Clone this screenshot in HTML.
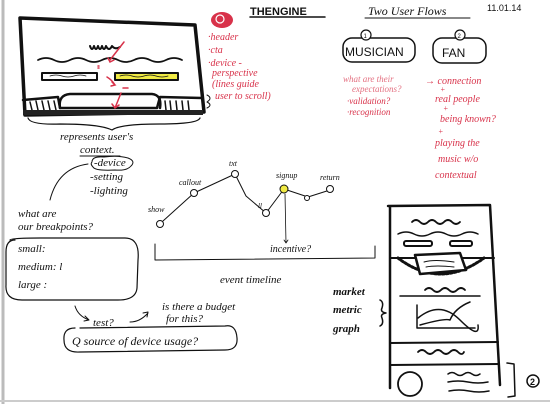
<!DOCTYPE html>
<html><head><meta charset="utf-8"><style>
html,body{margin:0;padding:0;background:#fff;width:550px;height:404px;overflow:hidden}
svg{display:block}
text{font-family:"Liberation Serif",serif;font-style:italic}
.h{font-family:"Liberation Sans",sans-serif;font-style:normal}
.r{fill:#d8324a}
</style></head><body>
<svg width="550" height="404" viewBox="0 0 550 404" xmlns="http://www.w3.org/2000/svg">
<rect width="550" height="404" fill="#fff"/>
<line x1="3" y1="0" x2="3" y2="404" stroke="#bbb" stroke-width="3"/>
<line x1="0" y1="401" x2="550" y2="401" stroke="#ccc" stroke-width="2"/>
<g fill="none" stroke="#111" stroke-linecap="round" stroke-linejoin="round">
<!-- desktop -->
<path d="M20 18 L195 25 L204 112 L25 115 Z" stroke-width="3.5"/>
<path d="M23 100 L58 97 L60 108 L157 108 L160 97 L202 98" stroke-width="2.5"/>
<path d="M60 108 Q58 95 70 94 L152 94 Q162 95 160 108" stroke-width="2.5"/>
<path d="M30 102 l2 8 M36 101 l2 9 M42 101 l2 9 M48 101 l2 9 M54 101 l2 9 M165 101 l1 9 M170 101 l1 9 M176 101 l1 9 M182 101 l1 9 M188 101 l1 9" stroke-width="1.5"/>
<rect x="23" y="110" width="180" height="5" fill="#222" stroke="none"/>
<path d="M90 46 q2 6 4 0 q2 6 4 0 q2 6 4 0 q2 6 4 0 q3 6 6 0 q3 4 8 1" stroke-width="2"/>
<path d="M38 60 q8 -4 16 0 t16 0 t16 0 t16 0 t16 0 t16 0 t16 0 t16 0 t16 0" stroke-width="1.8"/>
<rect x="42" y="73" width="55" height="7" stroke-width="2"/>
<rect x="115" y="73" width="63" height="7" stroke-width="2" fill="#f0ea44"/>
<path d="M50 76 q6 -2 12 0 t12 0 t12 0" stroke-width="0.8"/>
<path d="M120 76 q6 -2 12 0 t12 0 t12 0 t12 0" stroke-width="0.8"/>
<!-- brace -->
<path d="M28 118 Q30 125 60 124 Q100 124 112 130 Q120 124 160 124 Q198 124 200 118" stroke-width="1.2"/>
<path d="M207 95 q6 3 0 7 q6 3 0 6" stroke-width="1"/>
<!-- musician/fan -->
<rect x="343" y="38" width="72" height="24" rx="9" stroke-width="1.5"/>
<circle cx="366" cy="35" r="5" stroke-width="1.2" fill="#fff"/>
<rect x="433" y="38" width="53" height="25" rx="9" stroke-width="1.5"/>
<circle cx="460" cy="35" r="5" stroke-width="1.2" fill="#fff"/>
<line x1="250" y1="17" x2="325" y2="17" stroke-width="1.5"/>
<line x1="365" y1="18" x2="470" y2="18" stroke-width="1"/>
<!-- context -->
<line x1="80" y1="156" x2="120" y2="156" stroke-width="1"/>
<path d="M92 162 q0 -6 12 -5 q14 -2 24 1 q8 3 3 8 q-4 5 -16 4 q-20 1 -22 -3 q-3 -3 -1 -5" stroke-width="1"/>
<path d="M88 164 Q58 168 50 200" stroke-width="1"/>
<path d="M10 240 Q10 238 40 238 L125 238 Q140 238 138 260 L137 288 Q136 300 118 300 L22 300 Q5 300 6 285 L6 252 Q6 240 15 240" stroke-width="1.2"/>
<path d="M75 306 q3 10 14 14 m-4 -4 l4 4 l-5 1" stroke-width="1"/>
<path d="M130 322 q10 0 18 -9 m-5 0 l5 -1 l-1 5" stroke-width="1"/>
<path d="M75 328 Q63 328 64 340 Q64 353 80 352 L225 350 Q238 350 237 338 Q236 324 225 326 L80 328" stroke-width="1.2"/>
<!-- timeline -->
<path d="M163 221 L194 193 L235 174 L246 196 L266 213 L284 189 L308 197 L330 190" stroke-width="1"/>
<circle cx="160" cy="224" r="3.5" fill="#fff" stroke-width="1"/>
<circle cx="194" cy="193" r="3.5" fill="#fff" stroke-width="1"/>
<circle cx="235" cy="174" r="3.5" fill="#fff" stroke-width="1"/>
<circle cx="266" cy="213" r="3.5" fill="#fff" stroke-width="1"/>
<circle cx="284" cy="189" r="4" fill="#f0ea44" stroke-width="1"/>
<circle cx="307" cy="198" r="2.5" fill="#fff" stroke-width="1"/>
<circle cx="330" cy="189" r="3.5" fill="#fff" stroke-width="1"/>
<path d="M285 194 L286 243 m-2 -3 l2 3 l2 -3" stroke-width="0.8"/>
<path d="M155 244 L155 260 L375 258 L375 246" stroke-width="1"/>
<!-- mobile -->
<path d="M388 206 L490 205 L500 385 M390 206 L390 388" stroke-width="2.5"/>
<line x1="390" y1="258" x2="494" y2="258" stroke-width="2"/>
<line x1="390" y1="343" x2="498" y2="342" stroke-width="2"/>
<line x1="390" y1="365" x2="499" y2="364" stroke-width="2"/>
<path d="M412 222 q4 -4 8 0 t8 0 t8 0 t8 0 t8 0 t8 0" stroke-width="1.8"/>
<path d="M398 234 q8 -4 16 0 t16 0 t16 0 t16 0 t16 0" stroke-width="1.5"/>
<rect x="404" y="241" width="28" height="5" rx="2" stroke-width="2"/>
<rect x="450" y="241" width="22" height="5" rx="2" stroke-width="2"/>
<path d="M398 258 Q440 290 484 258" stroke-width="3" stroke-dasharray="2 2"/>
<path d="M415 255 L460 253 L466 270 L420 274 Z" stroke-width="2.5" fill="#fff"/>
<path d="M424 262 q10 -3 30 0 M426 267 q10 -2 28 0" stroke-width="1"/>
<path d="M425 290 q4 -4 8 0 t8 0 t8 0 t8 0 t8 0" stroke-width="1.8"/>
<line x1="400" y1="296" x2="480" y2="296" stroke-width="1.5"/>
<path d="M417 305 L417 328 L475 328" stroke-width="1.5"/>
<path d="M418 318 Q440 300 460 320 T478 325 M420 325 Q445 318 450 320 Q455 308 470 302" stroke-width="1.5"/>
<path d="M418 352 q4 -4 8 0 t8 0 t8 0 t8 0 t8 0 t6 0" stroke-width="1.8"/>
<circle cx="410" cy="384" r="12" stroke-width="1.8"/>
<path d="M448 374 q4 -3 8 0 t8 0 t8 0 t8 0 M448 382 q10 -2 20 0 t20 0 M449 391 q10 -2 20 0 t20 0" stroke-width="1.5"/>
<path d="M507 363 L514 364 L515 396 L508 397" stroke-width="1.5"/>
<circle cx="533" cy="381" r="6" stroke-width="1.5"/>
<path d="M380 300 q4 2 2 8 q-2 4 4 5 q-6 1 -4 5 q2 6 -2 8" stroke-width="1.5"/>
</g>
<!-- red -->
<g fill="none" stroke="#d8324a" stroke-width="1.5" stroke-linecap="round">
<path d="M124 42 L110 60 M108 58 l2 4 l4 -2"/>
<path d="M107 77 q5 3 8 8 M112 82 l3 3 l-4 1"/>
<path d="M121 93 L115 108 M112 104 l3 4 l4 -3"/>
<path d="M98 66 l1 0 M98 68 l1 0 M123 88 l5 0"/>
</g>
<ellipse cx="222" cy="20" rx="11" ry="8" class="r"/>
<circle cx="220" cy="19" r="4" fill="none" stroke="#fff" stroke-width="1.2"/>
<g class="r" font-size="10">
<text x="208" y="40">·header</text>
<text x="208" y="53">·cta</text>
<text x="208" y="66">·device -</text>
<text x="212" y="76">perspective</text>
<text x="212" y="87">(lines guide</text>
<text x="215" y="99">user to scroll)</text>
<text x="343" y="82" font-size="9" opacity="0.7">what are their</text>
<text x="352" y="92" font-size="9" opacity="0.7">expectations?</text>
<text x="347" y="104" font-size="9">·validation?</text>
<text x="347" y="115" font-size="9">·recognition</text>
<text x="425" y="84">→ connection</text>
<text x="440" y="92" font-size="8">+</text>
<text x="435" y="102">real people</text>
<text x="443" y="111" font-size="8">+</text>
<text x="440" y="122">being known?</text>
<text x="438" y="134" font-size="8">+</text>
<text x="435" y="146">playing the</text>
<text x="438" y="162">music w/o</text>
<text x="435" y="178">contextual</text>
</g>
<g fill="#111">
<text class="h" x="250" y="15" font-size="11" font-weight="bold">THENGINE</text>
<text x="368" y="15" font-size="12">Two User Flows</text>
<text class="h" x="487" y="11" font-size="9">11.01.14</text>
<text class="h" x="345" y="56" font-size="12">MUSICIAN</text>
<text class="h" x="442" y="57" font-size="12">FAN</text>
<text class="h" x="363.5" y="38" font-size="6">1</text>
<text class="h" x="457.5" y="38" font-size="6">2</text>
<text x="60" y="140" font-size="11">represents user's</text>
<text x="80" y="153" font-size="11">context.</text>
<text x="94" y="166" font-size="11">-device</text>
<text x="90" y="180" font-size="11">-setting</text>
<text x="90" y="194" font-size="11">-lighting</text>
<text x="18" y="217" font-size="11">what are</text>
<text x="18" y="230" font-size="11">our breakpoints?</text>
<text x="18" y="252" font-size="11">small:</text>
<text x="18" y="270" font-size="11">medium: l</text>
<text x="18" y="288" font-size="11">large :</text>
<text x="93" y="326" font-size="11">test?</text>
<text x="162" y="310" font-size="11">is there a budget</text>
<text x="166" y="322" font-size="11">for this?</text>
<text x="72" y="345" font-size="12">Q source of device usage?</text>
<text x="148" y="212" font-size="8">show</text>
<text x="179" y="185" font-size="8">callout</text>
<text x="229" y="166" font-size="8">txt</text>
<text x="276" y="178" font-size="8">signup</text>
<text x="320" y="180" font-size="8">return</text>
<text x="258" y="208" font-size="7">ll</text>
<text x="270" y="252" font-size="10">incentive?</text>
<text x="220" y="283" font-size="11">event timeline</text>
<text x="333" y="295" font-size="11" font-weight="bold">market</text>
<text x="333" y="313" font-size="11" font-weight="bold">metric</text>
<text x="333" y="332" font-size="11" font-weight="bold">graph</text>
<text class="h" x="530" y="385" font-size="9" font-weight="bold">2</text>
</g>
</svg>
</body></html>
